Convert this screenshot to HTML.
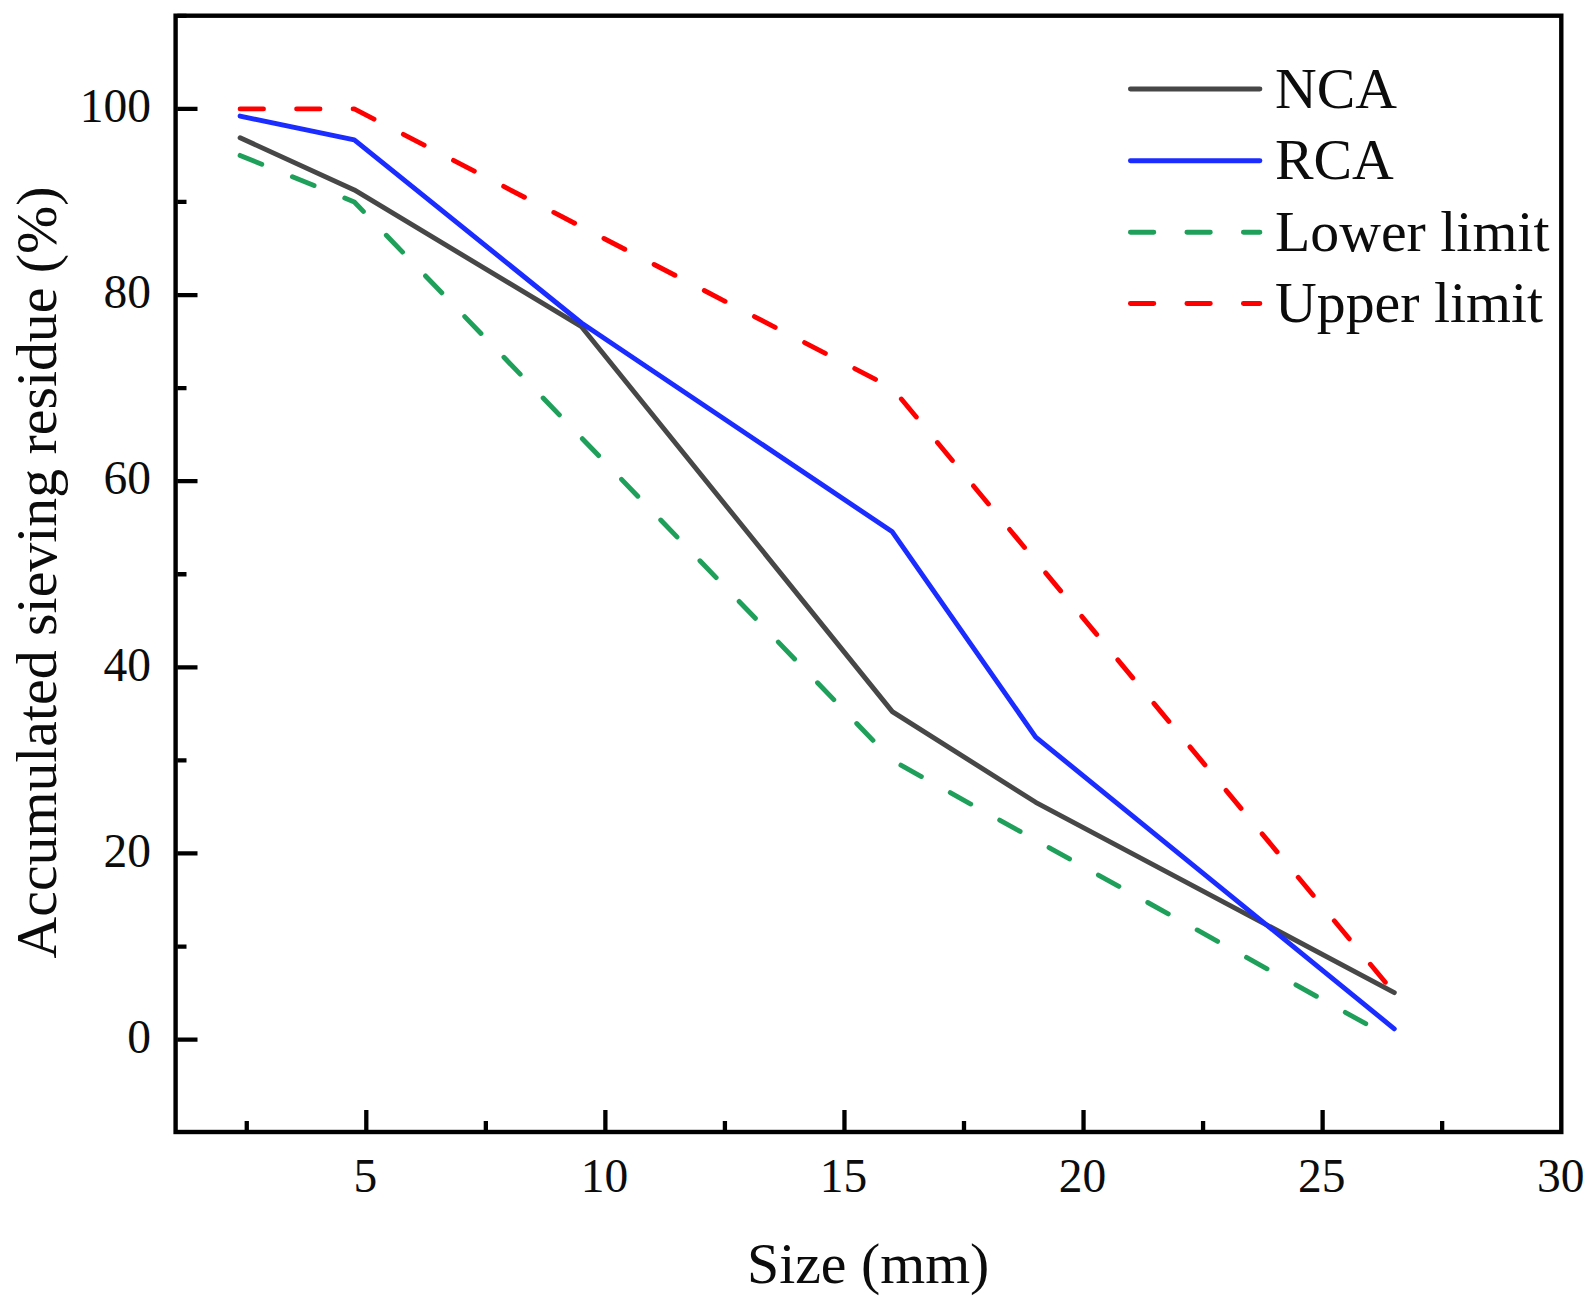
<!DOCTYPE html>
<html lang="en"><head><meta charset="utf-8"><title>Accumulated sieving residue</title>
<style>html,body{margin:0;padding:0;background:#fff}body{width:1591px;height:1304px;overflow:hidden}svg{display:block}text{font-family:"Liberation Serif",serif;fill:#0c0c0c}</style></head><body>
<svg width="1591" height="1304" viewBox="0 0 1591 1304">
<rect width="1591" height="1304" fill="#fff"/>
<rect x="175.60" y="15.70" width="1385.70" height="1116.30" fill="none" stroke="#000" stroke-width="4.40"/>
<path d="M177.30 1039.60 h20.20 M177.30 853.46 h20.20 M177.30 667.32 h20.20 M177.30 481.18 h20.20 M177.30 295.04 h20.20 M177.30 108.90 h20.20 M177.30 946.53 h9.20 M177.30 760.39 h9.20 M177.30 574.25 h9.20 M177.30 388.11 h9.20 M177.30 201.97 h9.20 M177.30 15.83 h9.20 M366.30 1130.30 v-20.20 M605.38 1130.30 v-20.20 M844.46 1130.30 v-20.20 M1083.54 1130.30 v-20.20 M1322.62 1130.30 v-20.20 M246.76 1130.30 v-9.20 M485.84 1130.30 v-9.20 M724.92 1130.30 v-9.20 M964.00 1130.30 v-9.20 M1203.08 1130.30 v-9.20 M1442.16 1130.30 v-9.20" stroke="#000" stroke-width="4.30" fill="none"/>
<g font-size="47.5">
<text x="151" y="1052.8" text-anchor="end">0</text>
<text x="151" y="866.7" text-anchor="end">20</text>
<text x="151" y="680.5" text-anchor="end">40</text>
<text x="151" y="494.4" text-anchor="end">60</text>
<text x="151" y="308.2" text-anchor="end">80</text>
<text x="151" y="122.1" text-anchor="end">100</text>
<text x="365.4" y="1192" text-anchor="middle">5</text>
<text x="604.5" y="1192" text-anchor="middle">10</text>
<text x="843.6" y="1192" text-anchor="middle">15</text>
<text x="1082.6" y="1192" text-anchor="middle">20</text>
<text x="1321.7" y="1192" text-anchor="middle">25</text>
<text x="1560.8" y="1192" text-anchor="middle">30</text>
</g>
<g font-size="57.8">
<text x="868.2" y="1282.8" text-anchor="middle">Size (mm)</text>
<text transform="translate(55.8 572.5) rotate(-90)" text-anchor="middle">Accumulated sieving residue (%)</text>
</g>
<g fill="none" stroke-width="4.90" stroke-linejoin="round" stroke-linecap="round">
<polyline points="240.1,137.8 354.3,189.9 581.5,326.7 892.3,711.6 1035.7,802.3 1394.3,992.6" stroke="#474747"/>
<polyline points="240.1,116.1 354.3,139.8 581.5,323.0 892.3,531.8 1035.7,737.1 1394.3,1028.8" stroke="#1a2cff"/>
<polyline points="240.1,155.4 354.3,202.0 892.3,760.4" stroke="#1fa05a" stroke-dasharray="23.4 33.1"/>
<polyline points="892.3,760.4 1394.3,1039.6" stroke="#1fa05a" stroke-dasharray="23.4 33.1" stroke-dashoffset="46.66"/>
<polyline points="240.1,108.9 354.3,108.9 892.3,388.1 1394.3,993.1" stroke="#ff0000" stroke-dasharray="23.4 33.1"/>
<path d="M1130.4 89.0 H1259.9" stroke="#474747"/>
<path d="M1130.4 160.8 H1259.9" stroke="#1a2cff"/>
<path d="M1130.4 232.3 H1259.9" stroke="#1fa05a" stroke-dasharray="23.4 33.1"/>
<path d="M1130.4 303.5 H1259.9" stroke="#ff0000" stroke-dasharray="23.4 33.1"/>
</g>
<g font-size="57.8">
<text x="1275" y="107.6">NCA</text>
<text x="1275" y="179.1">RCA</text>
<text x="1275" y="250.6">Lower limit</text>
<text x="1275" y="322.0">Upper limit</text>
</g>
</svg></body></html>
